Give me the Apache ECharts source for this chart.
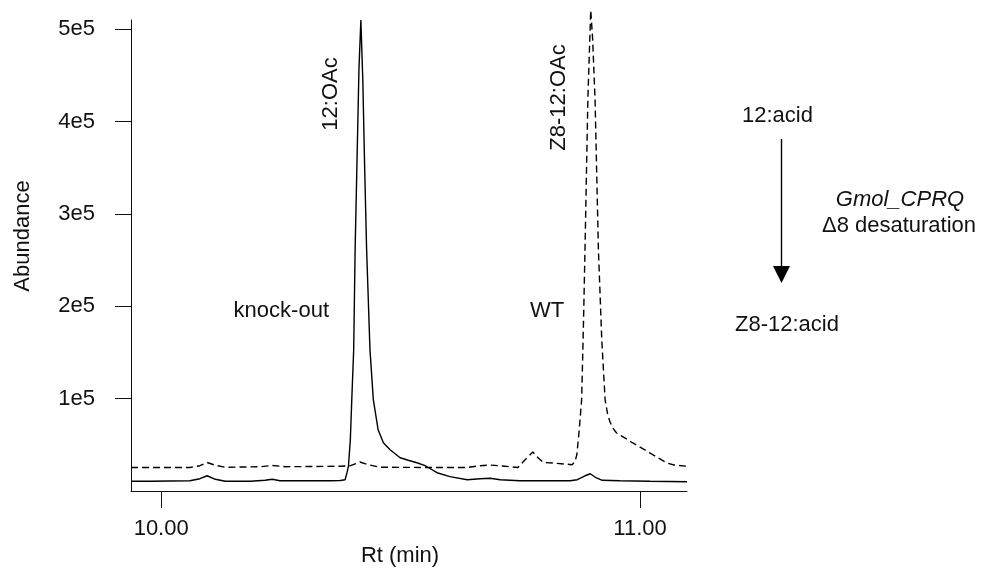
<!DOCTYPE html>
<html>
<head>
<meta charset="utf-8">
<script src="https://cdn.jsdelivr.net/npm/echarts@6/dist/echarts.min.js"></script>
<style>html,body{margin:0;padding:0;background:#fff}#c{width:984px;height:568px}</style>
</head>
<body>
<div id="c"></div>
<script>
// Retention time (min) and abundance for knock-out (solid) trace
var koRt = [9.937,9.977,10.060,10.081,10.096,10.113,10.134,10.186,10.217,10.232,10.248,10.290,10.353,10.374,10.384,10.388,10.391,10.395,10.398,10.402,10.405,10.409,10.413,10.417,10.421,10.425,10.429,10.436,10.443,10.453,10.464,10.478,10.499,10.516,10.534,10.551,10.562,10.576,10.603,10.639,10.666,10.687,10.708,10.749,10.812,10.854,10.869,10.885,10.896,10.908,10.921,10.958,11.021,11.098];
var koAbund = [10500,10500,11100,13300,16500,12700,10500,10500,11600,12700,11100,11100,11100,11300,12200,19800,26600,55600,98900,153000,261500,359000,456700,510000,445800,348200,261500,153100,98900,66400,52300,44700,36000,33300,30600,27400,24100,19800,15500,12200,13300,13800,12200,11100,11100,11100,12200,16500,18700,14400,11600,11100,10500,10000];
// Retention time (min) and abundance for WT (dashed) trace
var wtRt = [9.937,10.060,10.081,10.096,10.113,10.134,10.207,10.232,10.259,10.374,10.395,10.415,10.432,10.457,10.541,10.639,10.666,10.687,10.718,10.745,10.760,10.776,10.787,10.798,10.823,10.858,10.864,10.868,10.873,10.878,10.882,10.885,10.891,10.895,10.897,10.901,10.906,10.913,10.920,10.927,10.932,10.937,10.944,10.951,10.969,10.985,11.021,11.056,11.073,11.098];
var wtAbund = [25500,25500,27400,30900,27900,25700,26300,27600,26300,26800,27400,31400,28500,25700,25500,25500,27400,28100,26800,25500,33900,42200,36000,30900,30100,28500,31700,39300,66400,98900,185600,261500,424100,489200,520600,489200,424100,261500,164000,98900,84000,75000,67500,62800,57200,52000,41100,30300,27900,26800];
// Tick values and labels
var xTicks = [10, 11];
var xTickLabels = ['10.00', '11.00'];
var yTicks = [100000, 200000, 300000, 400000, 500000];
var yTickLabels = ['1e5', '2e5', '3e5', '4e5', '5e5'];

function zip(a, b) { return a.map(function (v, i) { return [v, b[i]]; }); }

var FONT = '"Liberation Sans", Arial, sans-serif';
var FS = 22;
var INK = '#111';

var chart = echarts.init(document.getElementById('c'));
chart.setOption({
  animation: false,
  backgroundColor: '#fff',
  grid: { left: 131, right: 297, top: 20, bottom: 77 },
  xAxis: {
    type: 'value', min: 9.937, max: 11.098,
    splitLine: { show: false },
    axisLine: { show: true, onZero: false, lineStyle: { color: INK, width: 1 } },
    axisTick: { show: true, length: 17, lineStyle: { color: INK, width: 1 }, customValues: xTicks },
    axisLabel: { margin: 27, color: INK, fontFamily: FONT, fontSize: FS, customValues: xTicks,
      formatter: function (v) { var i = xTicks.indexOf(v); return i >= 0 ? xTickLabels[i] : ''; } }
  },
  yAxis: {
    type: 'value', min: 0, max: 510000,
    splitLine: { show: false },
    axisLine: { show: true, onZero: false, lineStyle: { color: INK, width: 1 } },
    axisTick: { show: true, length: 16, lineStyle: { color: INK, width: 1 }, customValues: yTicks },
    axisLabel: { margin: 36, color: INK, fontFamily: FONT, fontSize: FS, customValues: yTicks,
      formatter: function (v) { var i = yTicks.indexOf(v); return i >= 0 ? yTickLabels[i] : ''; } }
  },
  series: [
    { name: 'knock-out', type: 'line', data: zip(koRt, koAbund), showSymbol: false, symbol: 'none',
      clip: false, lineStyle: { color: '#000', width: 1.4, type: 'solid' } },
    { name: 'WT', type: 'line', data: zip(wtRt, wtAbund), showSymbol: false, symbol: 'none',
      clip: false, lineStyle: { color: '#000', width: 1.4, type: [7, 4] } }
  ],
  graphic: [
    { type: 'text', x: 23, y: 236, rotation: Math.PI / 2, style: { text: 'Abundance', font: FS + 'px ' + FONT, fill: INK, textAlign: 'center', textVerticalAlign: 'middle' } },
    { type: 'text', x: 400, y: 556, style: { text: 'Rt (min)', font: FS + 'px ' + FONT, fill: INK, textAlign: 'center', textVerticalAlign: 'middle' } },
    { type: 'text', x: 330.5, y: 94, rotation: Math.PI / 2, style: { text: '12:OAc', font: FS + 'px ' + FONT, fill: INK, textAlign: 'center', textVerticalAlign: 'middle' } },
    { type: 'text', x: 559, y: 97.5, rotation: Math.PI / 2, style: { text: 'Z8-12:OAc', font: FS + 'px ' + FONT, fill: INK, textAlign: 'center', textVerticalAlign: 'middle' } },
    { type: 'text', x: 329, y: 311, style: { text: 'knock-out', font: FS + 'px ' + FONT, fill: INK, textAlign: 'right', textVerticalAlign: 'middle' } },
    { type: 'text', x: 547, y: 311, style: { text: 'WT', font: FS + 'px ' + FONT, fill: INK, textAlign: 'center', textVerticalAlign: 'middle' } },
    { type: 'text', x: 777.5, y: 116, style: { text: '12:acid', font: FS + 'px ' + FONT, fill: INK, textAlign: 'center', textVerticalAlign: 'middle' } },
    { type: 'text', x: 900, y: 200, style: { text: 'Gmol_CPRQ', font: 'italic ' + FS + 'px ' + FONT, fill: INK, textAlign: 'center', textVerticalAlign: 'middle' } },
    { type: 'text', x: 899, y: 226, style: { text: 'Δ8 desaturation', font: FS + 'px ' + FONT, fill: INK, textAlign: 'center', textVerticalAlign: 'middle' } },
    { type: 'text', x: 787, y: 325, style: { text: 'Z8-12:acid', font: FS + 'px ' + FONT, fill: INK, textAlign: 'center', textVerticalAlign: 'middle' } },
    { type: 'line', shape: { x1: 781.5, y1: 139, x2: 781.5, y2: 270 }, style: { stroke: '#000', lineWidth: 1.4 } },
    { type: 'polygon', shape: { points: [[773, 266], [790, 266], [781.5, 283]] }, style: { fill: '#000' } }
  ]
});
</script>
</body>
</html>
